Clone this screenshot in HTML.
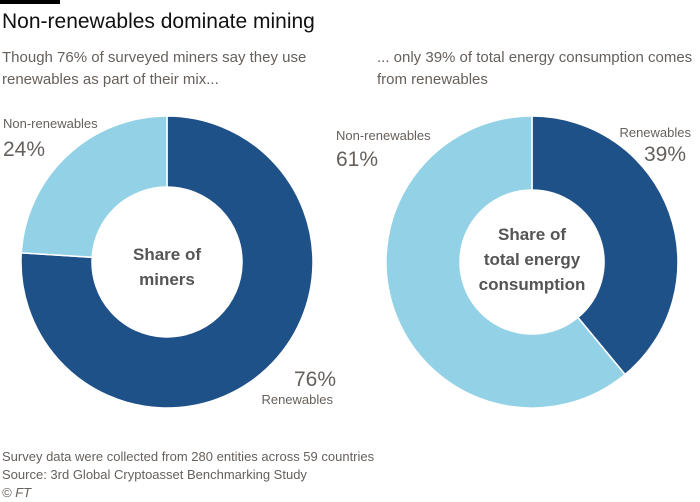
<!DOCTYPE html>
<html><head><meta charset="utf-8"><style>
body{margin:0;width:700px;height:500px;background:#fff;font-family:"Liberation Sans",sans-serif;overflow:hidden;position:relative}
.t{position:absolute;white-space:nowrap}
</style></head><body>
<div style="position:absolute;left:0;top:0;width:60px;height:4px;background:#000"></div>
<div class="t" style="left:2px;top:10px;font-size:21px;color:#111">Non-renewables dominate mining</div>
<div class="t" style="left:2px;top:47px;font-size:15px;line-height:22px;color:#66605c">Though 76% of surveyed miners say they use<br>renewables as part of their mix...</div>
<div class="t" style="left:377px;top:47px;font-size:15px;line-height:22px;color:#66605c">... only 39% of total energy consumption comes<br>from renewables</div>
<svg id="c" width="700" height="500" style="position:absolute;left:0;top:0"></svg>
<div class="t" style="left:2px;top:448px;font-size:13px;line-height:18px;color:#66605c">Survey data were collected from 280 entities across 59 countries<br>Source: 3rd Global Cryptoasset Benchmarking Study<br><i>© FT</i></div>
<script>
const categories=["Renewables","Non-renewables"];
const minersValues=[76,24];
const energyValues=[39,61];
const colors=["#1f5189","#93d2e6"];
const svg=document.getElementById('c');
const NS='http://www.w3.org/2000/svg';
function donut(cx,cy,R,r,vals,name){
  const tot=vals.reduce((a,b)=>a+b,0);let a0=0;
  vals.forEach((v,i)=>{
    const a1=a0+v/tot*2*Math.PI;
    const p=(a,rad)=>[cx+rad*Math.sin(a),cy-rad*Math.cos(a)];
    const lg=(a1-a0)>Math.PI?1:0;
    const [x0,y0]=p(a0,R),[x1,y1]=p(a1,R),[x2,y2]=p(a1,r),[x3,y3]=p(a0,r);
    const path=document.createElementNS(NS,'path');
    path.setAttribute('d',`M${x0},${y0}A${R},${R} 0 ${lg} 1 ${x1},${y1}L${x2},${y2}A${r},${r} 0 ${lg} 0 ${x3},${y3}Z`);
    path.setAttribute('fill',colors[i]);path.setAttribute('stroke','#fff');path.setAttribute('stroke-width','1.5');
    
    
    svg.appendChild(path);a0=a1;
  });
}
donut(167,262,146,75,minersValues,'miners');
donut(532,262,146,72,energyValues,'energy');
function txt(x,y,s,size,color,anchor,weight,name){
  const t=document.createElementNS(NS,'text');
  t.setAttribute('x',x);t.setAttribute('y',y);t.setAttribute('font-size',size);t.setAttribute('fill',color);
  t.setAttribute('text-anchor',anchor);if(weight)t.setAttribute('font-weight',weight);
  t.setAttribute('font-family','Liberation Sans, sans-serif');t.textContent=s;
  
  
  svg.appendChild(t);
}
txt(167,260,'Share of',17,'#555','middle','bold','miners-center-label');
txt(167,285,'miners',17,'#555','middle','bold','miners-center-label-2');
txt(532,240,'Share of',17,'#555','middle','bold','energy-center-label');
txt(532,265,'total energy',17,'#555','middle','bold','energy-center-label-2');
txt(532,290,'consumption',17,'#555','middle','bold','energy-center-label-3');
txt(3,128,'Non-renewables',13,'#66605c','start',null,'miners-nonrenew-label');
txt(3,156,minersValues[1]+'%',21,'#66605c','start',null,'miners-nonrenew-value');
txt(336,386,minersValues[0]+'%',21,'#66605c','end',null,'miners-renew-value');
txt(333,404,'Renewables',13,'#66605c','end',null,'miners-renew-label');
txt(336,140,'Non-renewables',13,'#66605c','start',null,'energy-nonrenew-label');
txt(336,166,energyValues[1]+'%',21,'#66605c','start',null,'energy-nonrenew-value');
txt(691,137,'Renewables',13,'#66605c','end',null,'energy-renew-label');
txt(686,161,energyValues[0]+'%',21,'#66605c','end',null,'energy-renew-value');
</script>
</body></html>
